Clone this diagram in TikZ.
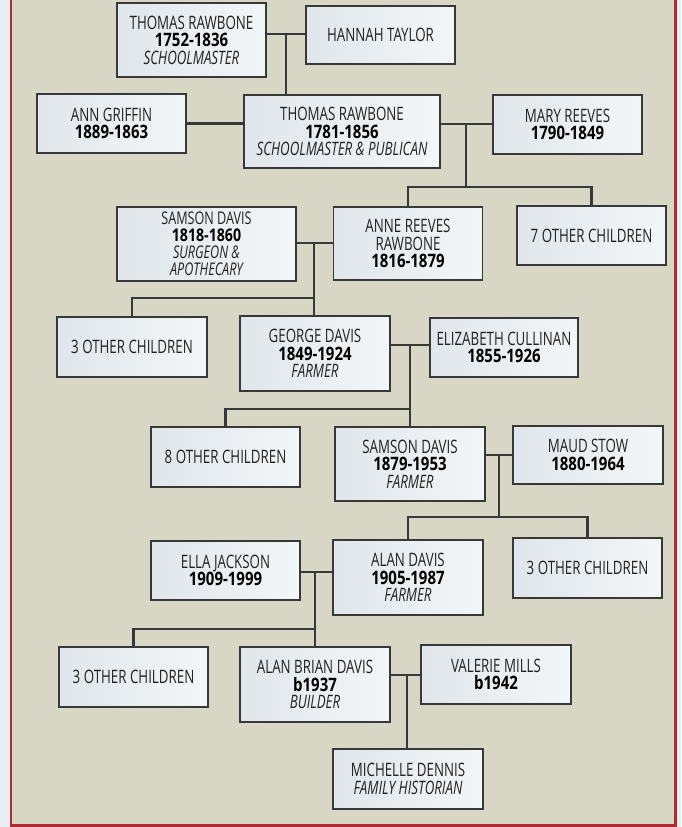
\documentclass[tikz,border=0pt]{standalone}
\usepackage{fontspec}
\setmainfont{Open Sans}[FakeStretch=0.72]
\newfontfamily\yrfont{Open Sans}[FakeStretch=0.81]
\definecolor{bgc}{HTML}{D8D7C6}
\definecolor{edgec}{HTML}{E9EEF2}
\definecolor{framered}{HTML}{B02A2E}
\definecolor{linec}{HTML}{383838}
\definecolor{boxl}{HTML}{E0E6EB}
\definecolor{boxr}{HTML}{F3F6F8}
\definecolor{txtc}{HTML}{222222}
\newcommand\tyr[1]{{\yrfont\bfseries\color{black}#1}}
\newcommand\tocc[1]{{\itshape #1}}
\tikzset{
  person/.style={draw=linec, line width=1.1pt, left color=boxl, right color=boxr,
    minimum width=149pt, minimum height=59pt, inner sep=0pt, align=center,
    text=txtc, font=\fontsize{18.5}{17.5}\selectfont},
  link/.style={draw=linec, line width=2.8pt, line cap=rect}
}
\begin{document}
\begin{tikzpicture}[x=1pt,y=-1pt]
\useasboundingbox (0,0) rectangle (681,827);
\fill[bgc] (0,0) rectangle (681,827);
\fill[edgec] (0,0) rectangle (10,827);
\fill[edgec] (677,0) rectangle (681,827);
\draw[framered, line width=2.2pt] (11,0) -- (11,825.5) -- (675.5,825.5) -- (675.5,0);

% row 1
\node[person, minimum height=74pt] (t1752) at (191.5,40) {THOMAS RAWBONE\\\tyr{1752-1836}\\\tocc{SCHOOLMASTER}};
\node[person, minimum height=58pt] (hannah) at (380.5,35) {HANNAH TAYLOR};
% row 2
\node[person] (ann) at (111.5,123.5) {ANN GRIFFIN\\\tyr{1889-1863}};
\node[person, minimum width=196pt, minimum height=73pt] (t1781) at (342,131.5) {THOMAS RAWBONE\\\tyr{1781-1856}\\\tocc{SCHOOLMASTER \& PUBLICAN}};
\node[person] (mary) at (567.5,124.5) {MARY REEVES\\\tyr{1790-1849}};
% row 3
\node[person, minimum width=179pt, minimum height=74pt, font=\fontsize{17.5}{17}\selectfont] (samson1) at (206.5,244) {SAMSON DAVIS\\\tyr{1818-1860}\\\tocc{SURGEON \&}\\\tocc{APOTHECARY}};
\node[person, minimum height=73pt] (anne) at (408,243.5) {ANNE REEVES\\RAWBONE\\\tyr{1816-1879}};
\node[person] (seven) at (591.5,235.5) {7 OTHER CHILDREN};
% row 4
\node[person, minimum width=150pt, minimum height=60pt] (three1) at (132,347) {3 OTHER CHILDREN};
\node[person, minimum width=150pt, minimum height=75pt] (george) at (315,353.5) {GEORGE DAVIS\\\tyr{1849-1924}\\\tocc{FARMER}};
\node[person, minimum width=148pt] (eliz) at (504,347.5) {ELIZABETH CULLINAN\\\tyr{1855-1926}};
% row 5
\node[person, minimum height=60pt] (eight) at (225.5,457) {8 OTHER CHILDREN};
\node[person, minimum width=150pt, minimum height=74pt] (samson2) at (410,464) {SAMSON DAVIS\\\tyr{1879-1953}\\\tocc{FARMER}};
\node[person, minimum width=150pt, minimum height=58pt] (maud) at (588,455) {MAUD STOW\\\tyr{1880-1964}};
% row 6
\node[person] (ella) at (225.5,570.5) {ELLA JACKSON\\\tyr{1909-1999}};
\node[person, minimum width=150pt, minimum height=75pt] (alan) at (408,577.5) {ALAN DAVIS\\\tyr{1905-1987}\\\tocc{FARMER}};
\node[person, minimum height=60pt] (three2) at (587.5,568) {3 OTHER CHILDREN};
% row 7
\node[person, minimum height=60pt] (three3) at (133.5,677) {3 OTHER CHILDREN};
\node[person, minimum width=150pt, minimum height=75pt] (alanb) at (315,684.5) {ALAN BRIAN DAVIS\\\tyr{b1937}\\\tocc{BUILDER}};
\node[person, minimum width=150pt] (valerie) at (496,674.5) {VALERIE MILLS\\\tyr{b1942}};
% row 8
\node[person, minimum width=150pt, minimum height=60pt] (michelle) at (408,779) {MICHELLE DENNIS\\\tocc{FAMILY HISTORIAN}};

% junction coordinates
\coordinate (m1) at (286,34);
\coordinate (m2) at (466,124);
\coordinate (b2) at (466,187);
\coordinate (m3) at (314,243);
\coordinate (b3) at (314,298);
\coordinate (m4) at (410,345);
\coordinate (b4) at (410,409);
\coordinate (m5) at (499,455);
\coordinate (b5) at (499,517);
\coordinate (m6) at (315,572);
\coordinate (b6) at (315,629);
\coordinate (m7) at (407,675);

% connectors
\draw[link] (t1752.east|-m1) -- (hannah.west|-m1);
\draw[link] (m1) -- (m1|-t1781.north);
\draw[link] (ann.east) -- (ann.east-|t1781.west);
\draw[link] (t1781.east|-m2) -- (mary.west|-m2);
\draw[link] (m2) -- (b2);
\draw[link] (anne.north) -- (anne.north|-b2) -- (seven.north|-b2) -- (seven.north);
\draw[link] (samson1.east|-m3) -- (anne.west|-m3);
\draw[link] (m3) -- (m3|-george.north);
\draw[link] (b3) -- (three1.north|-b3) -- (three1.north);
\draw[link] (george.east|-m4) -- (eliz.west|-m4);
\draw[link] (m4) -- (m4|-samson2.north);
\draw[link] (b4) -- (eight.north|-b4) -- (eight.north);
\draw[link] (samson2.east|-m5) -- (maud.west|-m5);
\draw[link] (m5) -- (b5);
\draw[link] (alan.north) -- (alan.north|-b5) -- (three2.north|-b5) -- (three2.north);
\draw[link] (ella.east|-m6) -- (alan.west|-m6);
\draw[link] (m6) -- (m6|-alanb.north);
\draw[link] (b6) -- (three3.north|-b6) -- (three3.north);
\draw[link] (alanb.east|-m7) -- (valerie.west|-m7);
\draw[link] (m7) -- (m7|-michelle.north);
\end{tikzpicture}
\end{document}
